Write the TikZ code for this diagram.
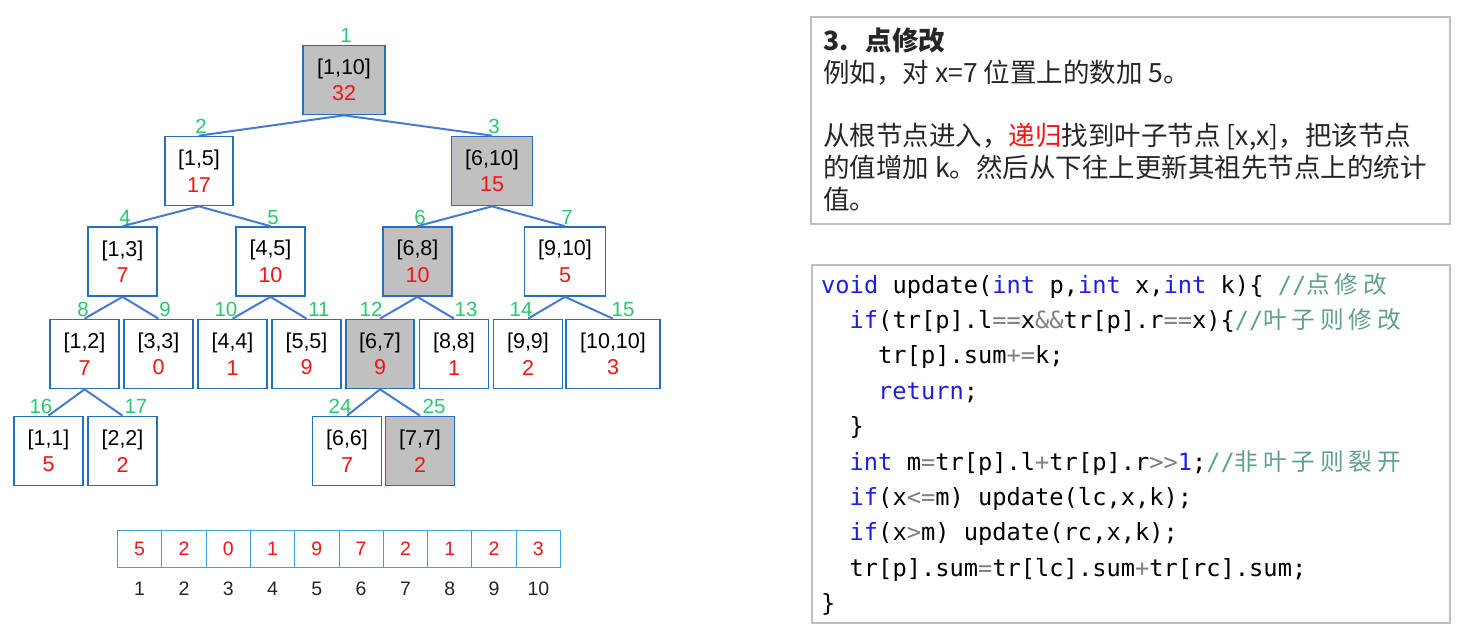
\documentclass[tikz,border=0pt]{standalone}
\usepackage{fontspec}
\setmainfont{Liberation Sans}
\newfontfamily\cjk{Noto Sans CJK SC}
\newfontfamily\codefont{DejaVu Sans Mono}
\newfontfamily\cjkcode[LetterSpace = 20]{Noto Sans CJK SC}
\definecolor{segblue}{RGB}{40,110,190}
\definecolor{edgeblue}{RGB}{72,122,208}
\definecolor{cellblue}{RGB}{60,160,230}
\definecolor{idgreen}{RGB}{40,200,110}
\definecolor{sumred}{RGB}{245,20,20}
\definecolor{segfill}{RGB}{192,192,192}
\definecolor{panelgray}{RGB}{190,190,190}
\definecolor{kwblue}{RGB}{30,30,230}
\definecolor{opgray}{RGB}{128,128,128}
\definecolor{cmgreen}{RGB}{95,160,140}
\newcommand{\kw}[1]{\textcolor{kwblue}{#1}}
\newcommand{\op}[1]{\textcolor{opgray}{#1}}
\newcommand{\cm}[1]{\textcolor{cmgreen}{#1}}

\begin{document}
\begin{tikzpicture}[x = 1pt, y = -1pt,
	seg/.style = {draw = segblue, line width = 1.7pt, minimum height = 69, inner sep = 0pt, align = center, font = \fontsize{21.5}{26.5}\selectfont},
	idx/.style = {text = idgreen, anchor = base, inner sep = 0pt, font = \fontsize{20.5}{25}\selectfont},
	link/.style = {draw = edgeblue, line width = 2pt},
	cell/.style = {draw = cellblue, line width = 1pt, minimum width = 44.3, minimum height = 37, inner sep = 0pt, text = sumred, font = \fontsize{19.5}{23}\selectfont},
	slotnum/.style = {anchor = base, inner sep = 0pt, text = black!85, font = \fontsize{19.5}{24}\selectfont},
	panel/.style = {draw = panelgray, line width = 1.2pt},
	note/.style = {anchor = base west, inner sep = 0pt, text = black!85, font = \cjk\fontsize{26.5}{32}\selectfont},
	codeline/.style = {anchor = base west, inner sep = 0pt, font = \codefont\fontsize{23.7}{35}\selectfont}]

	\useasboundingbox (0, 0) rectangle (1459, 633);

	\foreach \id/\cx/\cy/\w/\rng/\val/\bg/\lx in {
		1/344/80/82/{[1,10]}/32/segfill/346,
		2/199/171/68/{[1,5]}/17/white/201,
		3/492/171/81/{[6,10]}/15/segfill/494,
		4/122.5/261.5/69/{[1,3]}/7/white/125,
		5/270.5/261.5/69/{[4,5]}/10/white/273,
		6/417.5/261.5/69/{[6,8]}/10/segfill/420,
		7/565/261.5/81/{[9,10]}/5/white/567,
		8/84.5/354/69/{[1,2]}/7/white/83,
		9/158.5/354/69/{[3,3]}/0/white/165,
		10/232.5/354/69/{[4,4]}/1/white/226,
		11/306.5/354/69/{[5,5]}/9/white/319,
		12/380/354/68/{[6,7]}/9/segfill/371,
		13/454/354/69/{[8,8]}/1/white/466,
		14/528/354/69/{[9,9]}/2/white/521,
		15/613/354/94/{[10,10]}/3/white/623,
		16/48.5/451/69/{[1,1]}/5/white/41,
		17/122.5/451/69/{[2,2]}/2/white/136,
		24/347/451/69/{[6,6]}/7/white/340,
		25/420/451/69/{[7,7]}/2/segfill/434}
	{
		\node [seg, fill = \bg, minimum width = \w] (n\id) at (\cx, \cy) {\rng\\\textcolor{sumred}{\val}};
		\node [idx] (l\id) at (\lx, \cy - 37.5) {\id};
	}

	\foreach \p/\c in {1/2, 1/3, 2/4, 2/5, 3/6, 3/7, 4/8, 4/9, 5/10, 5/11, 6/12, 6/13, 7/14, 7/15, 8/16, 8/17, 12/24, 12/25}
		\draw [link] (n\p.south) -- (n\c.north);

	\foreach \v [count = \i] in {5, 2, 0, 1, 9, 7, 2, 1, 2, 3} {
		\node [cell] (a\i) at (95.35 + 44.3*\i, 548.5) {\v};
		\node [slotnum] (s\i) at (95.35 + 44.3*\i, 595) {\i};
	}

	\draw [panel] (811, 17) rectangle (1450, 224);

	\node [note, font = \cjk\bfseries\fontsize{26.5}{32}\selectfont] (t0) at (823, 50) {3.\hspace{9pt} 点修改};
	\node [note] (t1) at (823, 82) {例如，对 x=7 位置上的数加 5。};
	\node [note] (t2) at (823, 145) {从根节点进入，\textcolor{sumred}{递归}找到叶子节点 [x,x]，把该节点};
	\node [note] (t3) at (823, 177) {的值增加 k。然后从下往上更新其祖先节点上的统计};
	\node [note] (t4) at (823, 209) {值。};

	\draw [panel] (812, 265) rectangle (1450, 623);

	\node [codeline] (c1) at (821, 293) {\kw{void} update(\kw{int} p,\kw{int} x,\kw{int} k)\{ \cm{//{\cjkcode 点修改}}};
	\node [codeline] (c2) at (849.5, 328.4) {\kw{if}(tr[p].l\op{==}x\op{\&\&}tr[p].r\op{==}x)\{\cm{//{\cjkcode 叶子则修改}}};
	\node [codeline] (c3) at (878, 363.8) {tr[p].sum\op{+=}k;};
	\node [codeline] (c4) at (878, 399.2) {\kw{return};};
	\node [codeline] (c5) at (849.5, 434.6) {\}};
	\node [codeline] (c6) at (849.5, 470) {\kw{int} m\op{=}tr[p].l\op{+}tr[p].r\op{>>}\kw{1};\cm{//{\cjkcode 非叶子则裂开}}};
	\node [codeline] (c7) at (849.5, 505.4) {\kw{if}(x\op{<=}m) update(lc,x,k);};
	\node [codeline] (c8) at (849.5, 540.8) {\kw{if}(x\op{>}m) update(rc,x,k);};
	\node [codeline] (c9) at (849.5, 576.2) {tr[p].sum\op{=}tr[lc].sum\op{+}tr[rc].sum;};
	\node [codeline] (c10) at (821, 611.6) {\}};

\end{tikzpicture}
\end{document}
